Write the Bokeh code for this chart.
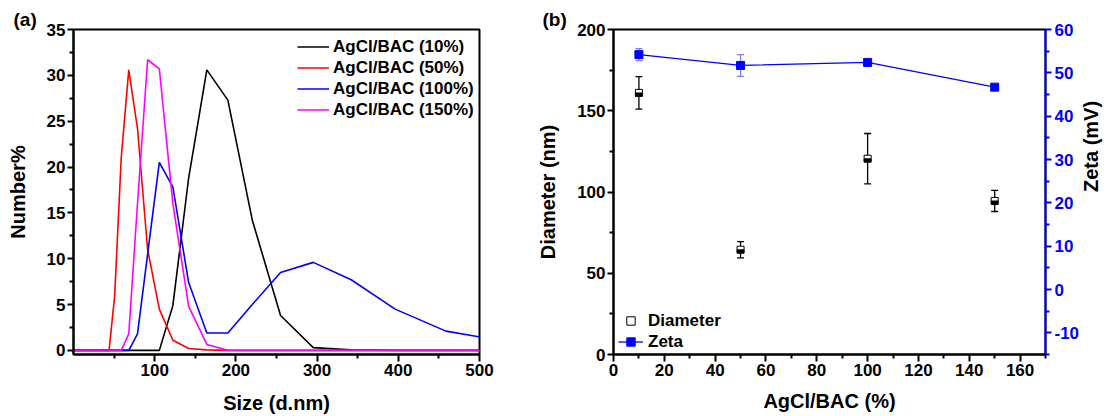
import math
from bokeh.plotting import figure
from bokeh.layouts import row
from bokeh.models import (Range1d, LinearAxis, FixedTicker, Legend, LegendItem,
                          Whisker, TeeHead, ColumnDataSource)
from bokeh.embed import file_html
from bokeh.resources import INLINE

FONT = "Liberation Sans"

# ---------------- panel (a) data: DLS number distributions ----------------
size_nm = [0.4, 37.84, 43.82, 50.75, 58.77, 68.06, 78.82, 91.28, 105.7, 122.4,
           141.8, 164.2, 190.1, 220.2, 255.0, 295.3, 342.0, 396.1, 458.7, 531.2]
num_10 = [0, 0, 0, 0, 0, 0, 0, 0, 0, 4.9, 18.8, 30.6, 27.3, 14.2, 3.8, 0.3, 0.05, 0, 0, 0]
num_50 = [0, 0, 0, 6.0, 21.0, 30.6, 24.2, 11.0, 4.5, 1.1, 0.2, 0.05, 0, 0, 0, 0, 0, 0, 0, 0]
num_100 = [0, 0, 0, 0, 0, 0, 1.8, 10.5, 20.5, 17.8, 7.4, 1.9, 1.9, 5.0, 8.5, 9.6, 7.7, 4.5, 2.1, 1.0]
num_150 = [0, 0, 0, 0, 0, 1.8, 16.0, 31.7, 30.7, 16.0, 4.8, 0.65, 0, 0, 0, 0, 0, 0, 0, 0]
series_labels = ["AgCl/BAC (10%)", "AgCl/BAC (50%)", "AgCl/BAC (100%)", "AgCl/BAC (150%)"]
series_colors = ["#000000", "#ff0000", "#0000ff", "#ff00ff"]

# ---------------- panel (b) data ----------------
ratio_pct = [10, 50, 100, 150]
diameter = [161.0, 64.5, 120.5, 94.5]
diameter_err = [10.0, 5.0, 15.5, 6.5]
zeta = [54.2, 51.7, 52.4, 46.7]
zeta_err = [1.4, 2.5, 0.4, 0.4]
zeta_ticks = [-10, 0, 10, 20, 30, 40, 50, 60]


def style_axis(ax, color="black"):
    ax.axis_line_width = 2
    ax.axis_line_color = color
    ax.major_tick_line_color = color
    ax.minor_tick_line_color = color
    ax.major_tick_line_width = 2
    ax.minor_tick_line_width = 2
    ax.major_tick_in = 0
    ax.minor_tick_in = 0
    ax.minor_tick_out = 4
    ax.major_label_text_font = FONT
    ax.major_label_text_font_style = "bold"
    ax.major_label_text_font_size = "17px"
    ax.major_label_text_color = color
    ax.axis_label_text_font = FONT
    ax.axis_label_text_font_style = "bold"
    ax.axis_label_text_font_size = "20px"
    ax.axis_label_text_color = "black"
    ax.major_label_standoff = 2


def style_title(p, text, offset):
    p.title.text = text
    p.title.align = "left"
    p.title.offset = offset
    p.title.standoff = 0
    p.title.vertical_align = "bottom"
    p.title.text_font = FONT
    p.title.text_font_style = "bold"
    p.title.text_font_size = "19px"
    p.title.text_color = "black"


def make_legend(items, location, glyph_width, standoff):
    return Legend(items=items, location=location, label_text_font=FONT,
                  label_text_font_style="bold", label_text_font_size="17px",
                  label_text_color="black",
                  glyph_width=glyph_width, glyph_height=21, label_height=21,
                  label_standoff=standoff, spacing=0, padding=0, margin=0,
                  border_line_color=None, background_fill_alpha=0)


# ================= panel (a) =================
p1 = figure(width=524, height=416, output_backend="svg", toolbar_location=None,
            x_range=Range1d(0, 500), y_range=Range1d(-0.45, 35),
            min_border_left=73, min_border_right=45, min_border_top=29, min_border_bottom=61)
p1.grid.visible = False
p1.outline_line_color = "black"
p1.outline_line_width = 2
p1.background_fill_color = "white"
p1.border_fill_color = "white"
style_title(p1, "(a)", -60)

p1.xaxis.ticker = FixedTicker(ticks=[100, 200, 300, 400, 500],
                              minor_ticks=[50, 150, 250, 350, 450])
p1.yaxis.ticker = FixedTicker(ticks=[0, 5, 10, 15, 20, 25, 30, 35],
                              minor_ticks=[2.5, 7.5, 12.5, 17.5, 22.5, 27.5, 32.5])
for ax in p1.xaxis + p1.yaxis:
    style_axis(ax)
p1.xaxis.major_tick_out = 7
p1.yaxis.major_tick_out = 6
p1.xaxis.axis_label_standoff = 13
p1.yaxis.axis_label_standoff = 15
p1.xaxis.axis_label = "Size (d.nm)"
p1.yaxis.axis_label = "Number%"

items = []
for ys, lab, col in zip([num_10, num_50, num_100, num_150], series_labels, series_colors):
    r = p1.line(size_nm, ys, line_color=col, line_width=1.6)
    items.append(LegendItem(label=lab, renderers=[r]))
p1.add_layout(make_legend(items, (224, 234), 32, 4))

# ================= panel (b) =================
p2 = figure(width=592, height=416, output_backend="svg", toolbar_location=None,
            x_range=Range1d(0, 170), y_range=Range1d(0, 200),
            min_border_left=89, min_border_right=63, min_border_top=28, min_border_bottom=58)
p2.grid.visible = False
p2.outline_line_color = "black"
p2.outline_line_width = 2
p2.background_fill_color = "white"
p2.border_fill_color = "white"
p2.extra_y_ranges = {"zeta": Range1d(-15, 60)}
style_title(p2, "(b)", -71)

p2.xaxis.ticker = FixedTicker(ticks=list(range(0, 161, 20)),
                              minor_ticks=list(range(10, 171, 20)))
p2.yaxis.ticker = FixedTicker(ticks=[0, 50, 100, 150, 200], minor_ticks=[25, 75, 125, 175])
for ax in p2.xaxis + p2.yaxis:
    style_axis(ax)
p2.xaxis.major_tick_out = 7
p2.yaxis.major_tick_out = 6
p2.xaxis.axis_label_standoff = 11
p2.yaxis.axis_label_standoff = 15
p2.xaxis.axis_label = "AgCl/BAC (%)"
p2.yaxis.axis_label = "Diameter (nm)"

zax = LinearAxis(y_range_name="zeta", axis_label="Zeta (mV)",
                 ticker=FixedTicker(ticks=zeta_ticks,
                                    minor_ticks=list(range(-15, 60, 10))))
style_axis(zax, color="#0000ff")
zax.major_tick_out = 6
zax.major_label_standoff = 3
zax.axis_label_standoff = 9
zax.major_label_overrides = {t: str(t) for t in zeta_ticks}
if "axis_label_orientation" in zax.properties():
    zax.axis_label_orientation = math.pi / 2
p2.add_layout(zax, "right")

# error bars
dsrc = ColumnDataSource(dict(x=ratio_pct,
                             upper=[m + e for m, e in zip(diameter, diameter_err)],
                             lower=[m - e for m, e in zip(diameter, diameter_err)]))
p2.add_layout(Whisker(source=dsrc, base="x", upper="upper", lower="lower",
                      line_color="black", line_width=1.3, level="underlay",
                      upper_head=TeeHead(size=7, line_color="black", line_width=1.3),
                      lower_head=TeeHead(size=7, line_color="black", line_width=1.3)))
zsrc = ColumnDataSource(dict(x=ratio_pct,
                             upper=[m + e for m, e in zip(zeta, zeta_err)],
                             lower=[m - e for m, e in zip(zeta, zeta_err)]))
p2.add_layout(Whisker(source=zsrc, base="x", upper="upper", lower="lower",
                      y_range_name="zeta", line_color="#7f7fff", line_width=1.3,
                      level="underlay",
                      upper_head=TeeHead(size=7, line_color="#7f7fff", line_width=1.3),
                      lower_head=TeeHead(size=7, line_color="#7f7fff", line_width=1.3)))

# diameter: half-filled squares
rd = p2.scatter(ratio_pct, diameter, marker="square", size=7, fill_color="white",
                line_color="black", line_width=1)
p2.rect(x=ratio_pct, y=[m - 1.0 for m in diameter], width=7, height=3.5,
        width_units="screen", height_units="screen", fill_color="black", line_color="black",
        line_width=0.5)

# zeta line + squares
rz_line = p2.line(ratio_pct, zeta, y_range_name="zeta", line_color="#0000ff", line_width=1.3)
rz_pts = p2.scatter(ratio_pct, zeta, y_range_name="zeta", marker="square", size=8,
                    fill_color="#0000ff", line_color="#0000ff")

p2.add_layout(make_legend([LegendItem(label="Diameter", renderers=[rd]),
                           LegendItem(label="Zeta", renderers=[rz_line, rz_pts])],
                          (5, 2), 25, 5))

layout = row(p1, p2)
open("out.html", "w").write(file_html(layout, INLINE))
